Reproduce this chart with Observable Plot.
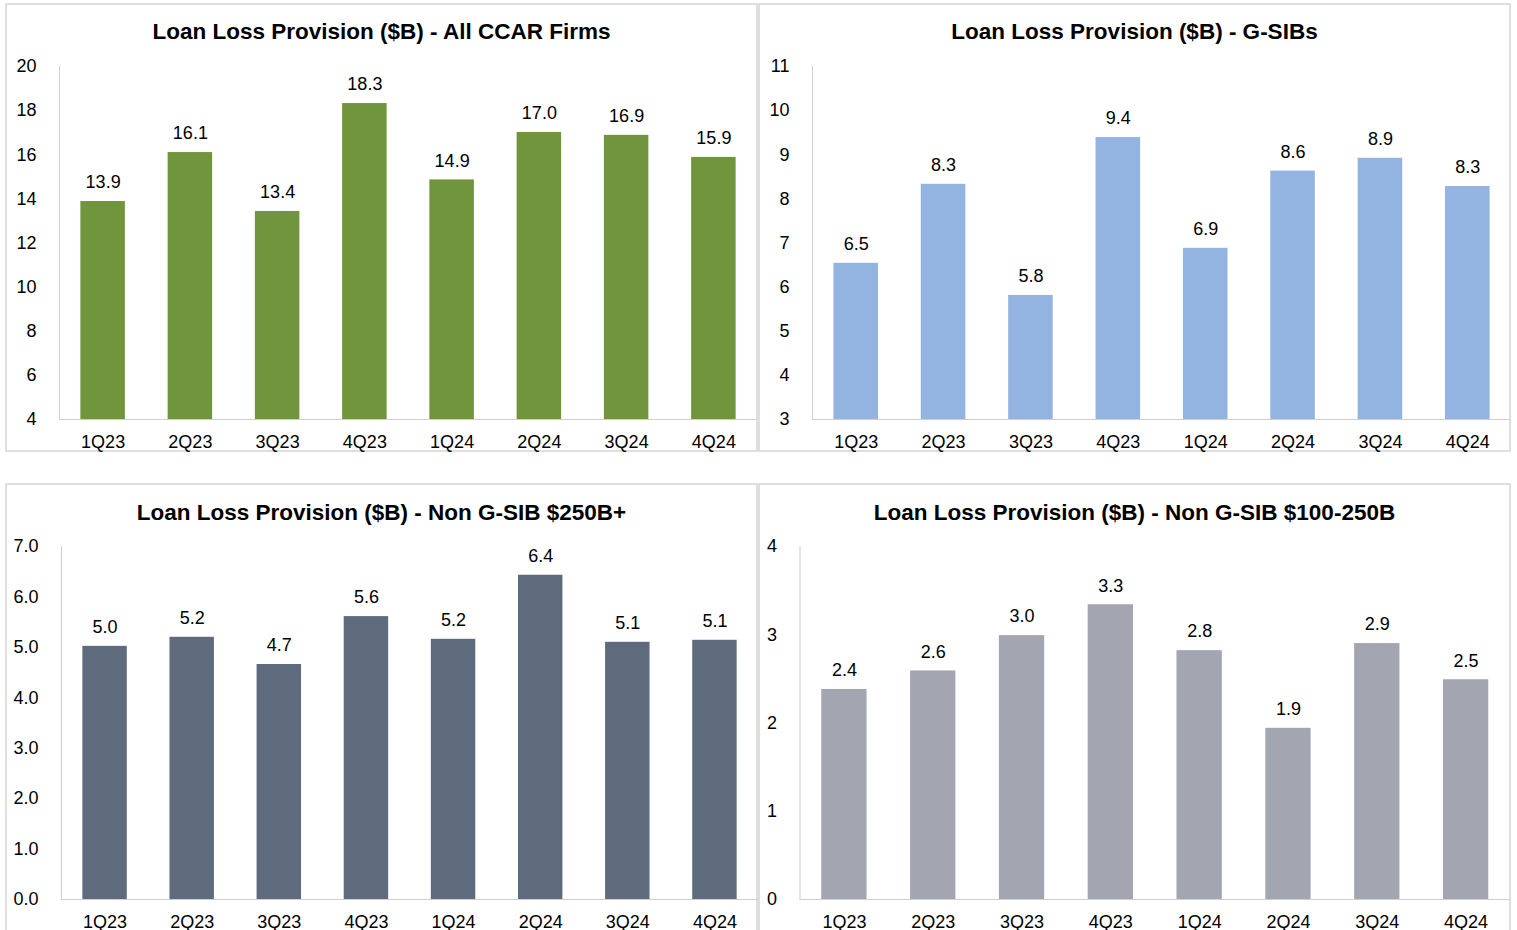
<!DOCTYPE html>
<html>
<head>
<meta charset="utf-8">
<script src="https://cdn.jsdelivr.net/npm/d3@7"></script>
<script src="https://cdn.jsdelivr.net/npm/@observablehq/plot@0.6"></script>
<style>
  html, body { margin: 0; padding: 0; background: #fff; overflow: hidden; }
  body { width: 1517px; height: 930px; position: relative; font-family: "Liberation Sans", Arial, sans-serif; }
  .panel { position: absolute; box-sizing: border-box; border: 2px solid #dedede; }
  .title { position: absolute; font-weight: bold; font-size: 22.5px; line-height: 26px; text-align: center; color: #000; white-space: nowrap; }
  .chart { position: absolute; }
</style>
</head>
<body>
<script>
const quarters = ["1Q23", "2Q23", "3Q23", "4Q23", "1Q24", "2Q24", "3Q24", "4Q24"];
const allCcar = [13.88, 16.1, 13.43, 18.32, 14.86, 17.01, 16.88, 15.88];
const gsibs = [6.54, 8.33, 5.81, 9.39, 6.88, 8.63, 8.92, 8.28];
const nonGsib250 = [5.02, 5.2, 4.66, 5.61, 5.16, 6.43, 5.1, 5.14];
const nonGsib100 = [2.38, 2.59, 2.99, 3.34, 2.82, 1.94, 2.9, 2.49];

const titles = [
  "Loan Loss Provision ($B) - All CCAR Firms",
  "Loan Loss Provision ($B) - G-SIBs",
  "Loan Loss Provision ($B) - Non G-SIB $250B+",
  "Loan Loss Provision ($B) - Non G-SIB $100-250B"
];
const yTicksAll = [4, 6, 8, 10, 12, 14, 16, 18, 20];
const yTicksGsib = [3, 4, 5, 6, 7, 8, 9, 10, 11];
const yTicks250 = [0, 1, 2, 3, 4, 5, 6, 7];
const yTicks100 = [0, 1, 2, 3, 4];

const colors = ["#71953c", "#93b3e1", "#5e6b7d", "#a3a5b1"];

const panels = [
  {series: allCcar, ticks: yTicksAll, fmt: d => String(d), color: colors[0], title: titles[0],
   box: [5, 3, 753, 449], svg: [5, 53, 752, 399], ml: 54, titleY: 32},
  {series: gsibs, ticks: yTicksGsib, fmt: d => String(d), color: colors[1], title: titles[1],
   box: [758, 3, 753, 449], svg: [758, 53, 753, 399], ml: 54, titleY: 32},
  {series: nonGsib250, ticks: yTicks250, fmt: d => d.toFixed(1), color: colors[2], title: titles[2],
   box: [5, 483, 753, 460], svg: [5, 533, 753, 399], ml: 56, titleY: 513},
  {series: nonGsib100, ticks: yTicks100, fmt: d => String(d), color: colors[3], title: titles[3],
   box: [758, 483, 753, 460], svg: [758, 533, 752, 399], ml: 41.5, titleY: 513}
];

for (const p of panels) {
  const box = document.createElement("div");
  box.className = "panel";
  Object.assign(box.style, {left: p.box[0] + "px", top: p.box[1] + "px", width: p.box[2] + "px", height: p.box[3] + "px"});
  document.body.appendChild(box);

  const t = document.createElement("div");
  t.className = "title";
  t.textContent = p.title;
  Object.assign(t.style, {left: p.box[0] + "px", width: p.box[2] + "px", top: (p.titleY - 13) + "px"});
  document.body.appendChild(t);

  const data = quarters.map((q, i) => ({q, v: p.series[i]}));
  const yMin = p.ticks[0], yMax = p.ticks[p.ticks.length - 1];
  const chart = Plot.plot({
    width: p.svg[2],
    height: p.svg[3],
    marginTop: 13,
    marginBottom: 33,
    marginLeft: p.ml,
    marginRight: 0,
    style: {fontFamily: "'Liberation Sans', Arial, sans-serif", fontSize: "18px", color: "#000", background: "transparent"},
    x: {domain: quarters, paddingInner: 0.49, paddingOuter: 0.245, round: false, label: null},
    y: {domain: [yMin, yMax], label: null},
    marks: [
      Plot.barY(data, {x: "q", y1: yMin, y2: "v", fill: p.color}),
      Plot.frame({anchor: "left", stroke: "#cfcfcf"}),
      Plot.ruleY([yMin], {stroke: "#cfcfcf"}),
      Plot.text(data, {x: "q", y: "v", text: d => d.v.toFixed(1), dy: -19, fontSize: 18, fill: "#000"}),
      Plot.axisY({ticks: p.ticks, tickFormat: p.fmt, tickSize: 0, tickPadding: 23, label: null, fontSize: 18}),
      Plot.axisX({tickSize: 0, tickPadding: 16, label: null, fontSize: 18})
    ]
  });
  chart.classList.add("chart");
  Object.assign(chart.style, {left: p.svg[0] + "px", top: p.svg[1] + "px"});
  document.body.appendChild(chart);
}
</script>
</body>
</html>
